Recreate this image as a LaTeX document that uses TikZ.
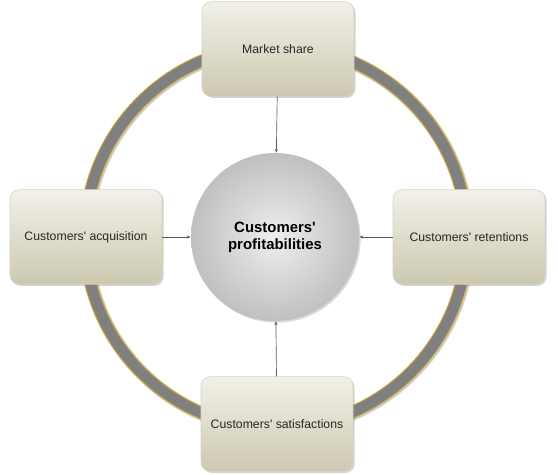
\documentclass[tikz,border=0pt]{standalone}
\usepackage{fontspec}
\setmainfont{Liberation Sans}[Ligatures=TeXOff]
\usetikzlibrary{arrows.meta,shadows}

\definecolor{ringgold}{RGB}{214,170,52}
\definecolor{ringgrey}{RGB}{128,128,128}
\definecolor{boxlight}{RGB}{242,241,232}
\definecolor{boxdark}{RGB}{204,200,176}
\definecolor{hubouter}{RGB}{192,192,192}
\definecolor{hubinner}{RGB}{238,238,238}

\tikzset{
  factor/.style={rounded corners=7pt, minimum width=114pt, minimum height=71pt,
    top color=boxlight, bottom color=boxdark, draw=boxdark!80!white, line width=0.4pt,
    drop shadow={opacity=0.35, shadow xshift=1.2pt, shadow yshift=-1.2pt},
    font=\fontsize{9.2}{11}\selectfont, text=black!85, inner sep=2pt},
  hub/.style={circle, minimum size=126pt, inner sep=0pt,
    inner color=hubinner, outer color=hubouter, draw=none,
    drop shadow={opacity=0.3, shadow xshift=1.2pt, shadow yshift=-1.2pt},
    font=\fontsize{11.2}{12.8}\selectfont\bfseries, align=center},
  feed/.style={draw=black!65, line width=0.5pt, -{Stealth[length=3pt,width=2.4pt]}}
}

\begin{document}
\begin{tikzpicture}[x=0.75pt,y=0.75pt,yscale=-1,xscale=1]
\useasboundingbox (0,0) rectangle (558,475);

%Ring
\draw [color=black!20, line width=10.5pt] (277,238) circle (191);
\draw [color=ringgold, line width=9.6pt] (276,237) circle (191);
\draw [color=ringgrey, line width=8pt] (276,237) circle (191);

%Hub
\node [hub] (profit) at (275,237) {Customers'\\profitabilities};

%Factors
\node [factor] (share) at (278,49) {Market share};
\node [factor] (acquis) at (86,237) {Customers' acquisition};
\node [factor] (retain) at (469,237) {Customers' retentions};
\node [factor] (satisf) at (277,424) {Customers' satisfactions};

%Connectors
\draw [feed] (share) -- (profit);
\draw [feed] (acquis) -- (profit);
\draw [feed] (retain) -- (profit);
\draw [feed] (satisf) -- (profit);

\end{tikzpicture}
\end{document}
